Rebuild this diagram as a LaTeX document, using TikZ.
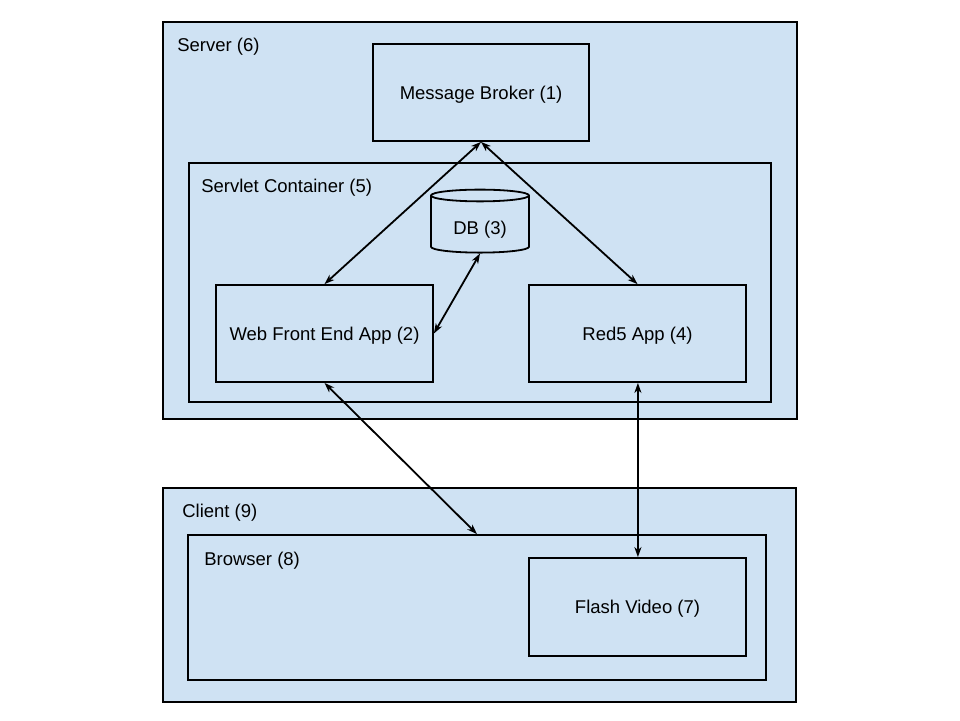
\documentclass[tikz,border=0pt]{standalone}
\usepackage{fontspec}
\setmainfont{Liberation Sans}
\usepackage{tikz}
\usetikzlibrary{positioning,shapes.geometric,arrows.meta}
\definecolor{boxblue}{RGB}{207,226,243}

\begin{document}
\begin{tikzpicture}
			[x=1pt, y=-1pt, font=\fontsize{18.5}{22}\selectfont,
			every node/.style={inner sep=0pt, text depth=0pt},
			box/.style={rectangle, draw=black, fill=boxblue, line width=1.8pt},
			tag/.style={anchor=west},
			link/.style={draw=black, line width=1.8pt,
				{Stealth[length=10pt,width=7pt,inset=3pt]}-{Stealth[length=10pt,width=7pt,inset=3pt]}},
			]
			\useasboundingbox (0,0) rectangle (960,720);
			% server side
			\node[box, minimum width=634pt, minimum height=397pt] (server) at (480,220.5) {};
			\node[tag] (serverlbl) at ([xshift=15pt,yshift=-24pt]server.north west) {Server (6)};
			\node[box, minimum width=216pt, minimum height=97pt] (broker) at (481,92.5) {Message Broker (1)};
			\node[box, minimum width=582pt, minimum height=239pt] (servlet) at (480,282.5) {};
			\node[tag] (servletlbl) at ([xshift=13pt,yshift=-24pt]servlet.north west) {Servlet Container (5)};
			\node[box, cylinder, shape border rotate=90, aspect=0.22, text height=19pt,
				minimum width=98pt, minimum height=63pt] (db) at (480,224.5) {DB (3)};
			\node[box, minimum width=217pt, minimum height=97pt] (web) at (324.5,333.5) {Web Front End App (2)};
			\node[box, minimum width=217pt, minimum height=97pt] (red5) at (637.5,333.5) {Red5 App (4)};
			% client side
			\node[box, minimum width=633pt, minimum height=214pt] (client) at (479.5,595) {};
			\node[tag] (clientlbl) at ([xshift=20pt,yshift=-24pt]client.north west) {Client (9)};
			\node[box, minimum width=578pt, minimum height=145pt] (browser) at (477,607.5) {};
			\node[tag] (browserlbl) at ([xshift=17pt,yshift=-25pt]browser.north west) {Browser (8)};
			\node[box, minimum width=217pt, minimum height=98pt] (flash) at (637.5,607) {Flash Video (7)};
			% links
			\draw[link] (broker.south) -- (web.north);
			\draw[link] (broker.south) -- (red5.north);
			\draw[link] (db.south) -- (web.east);
			\draw[link] (web.south) -- (browser.north);
			\draw[link] ([xshift=0.4pt]red5.south) -- ([xshift=0.4pt]flash.north);
		\end{tikzpicture}
\end{document}
